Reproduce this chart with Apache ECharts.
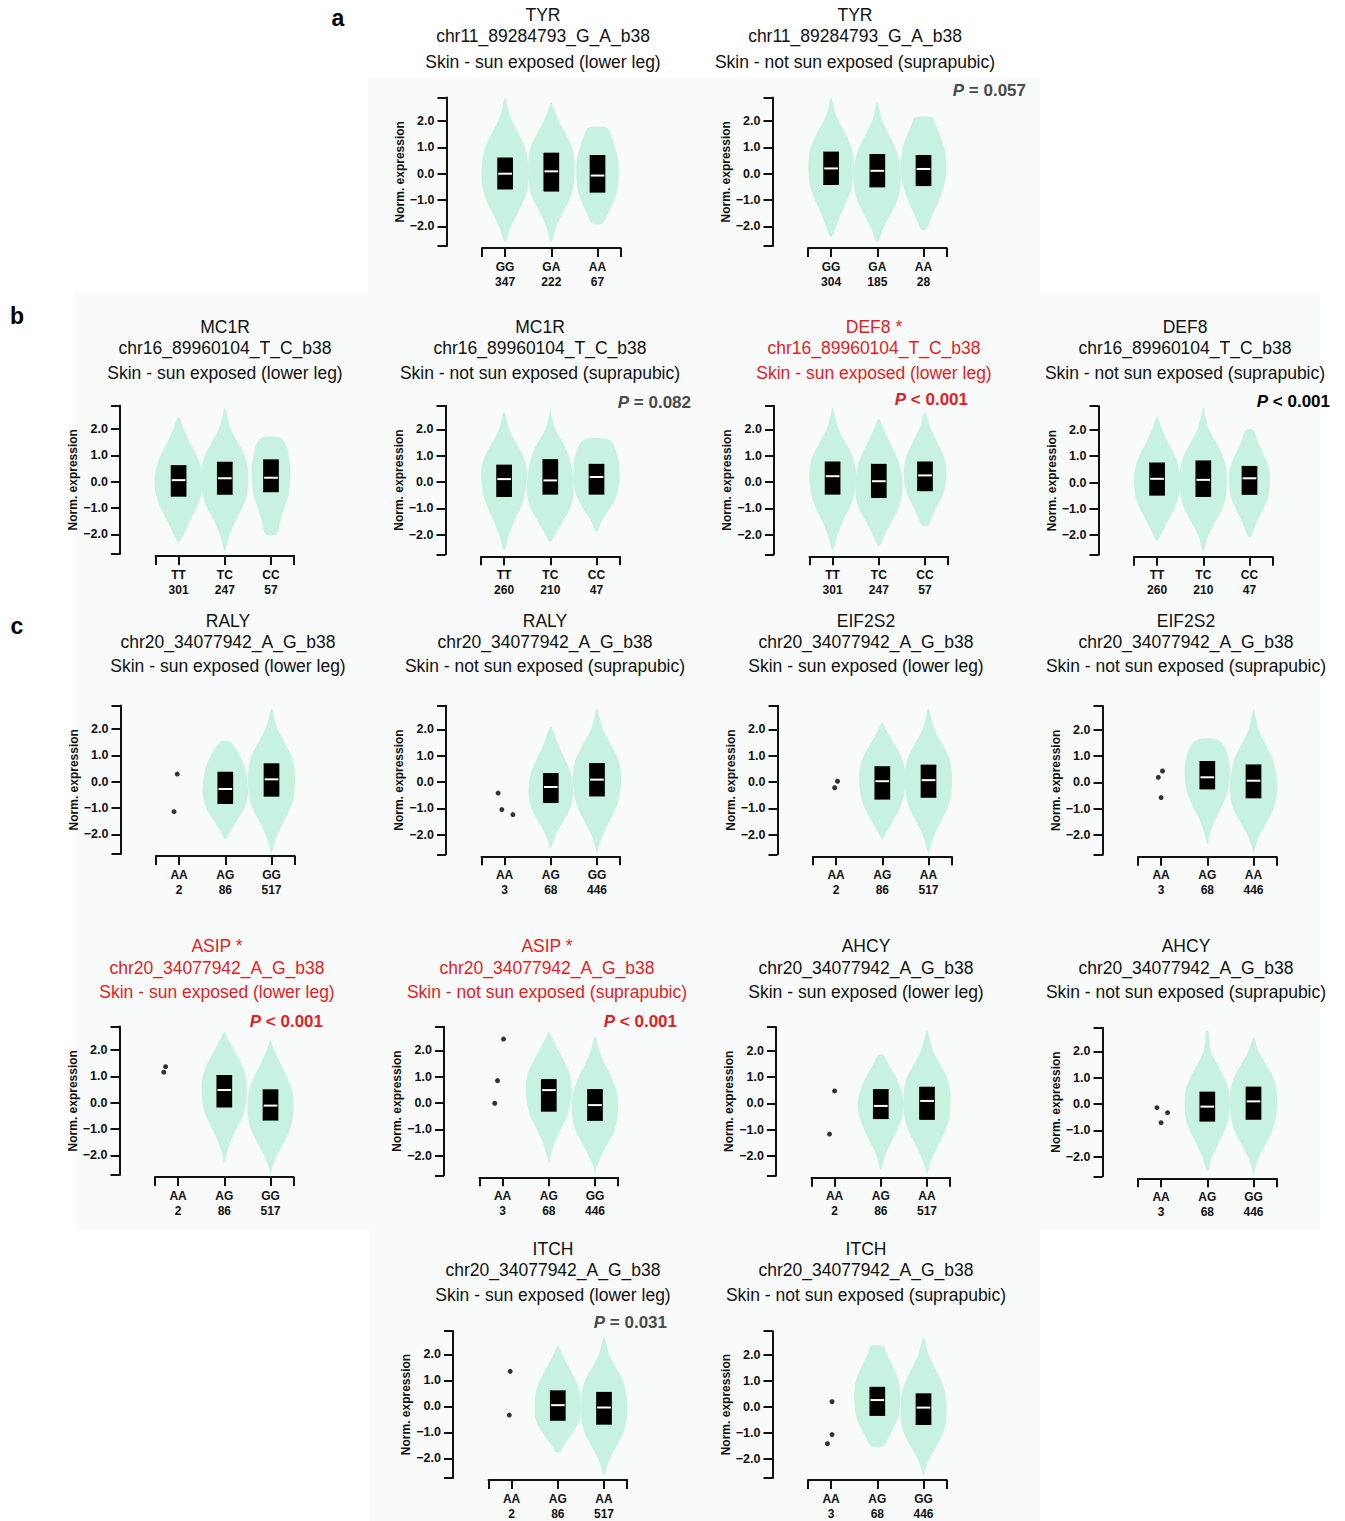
<!DOCTYPE html>
<html><head><meta charset="utf-8">
<script src="https://cdn.jsdelivr.net/npm/echarts@6/dist/echarts.min.js"></script>
<style>html,body{margin:0;padding:0;background:#fff}#c{width:1345px;height:1521px}</style>
</head><body><div id="c"></div>
<script>
// ---------------- DATA ----------------
const genes = ['TYR','TYR','MC1R','MC1R','DEF8 *','DEF8','RALY','RALY','EIF2S2','EIF2S2','ASIP *','ASIP *','AHCY','AHCY','ITCH','ITCH'];
const snps = ['chr11_89284793_G_A_b38','chr11_89284793_G_A_b38',
  'chr16_89960104_T_C_b38','chr16_89960104_T_C_b38','chr16_89960104_T_C_b38','chr16_89960104_T_C_b38',
  'chr20_34077942_A_G_b38','chr20_34077942_A_G_b38','chr20_34077942_A_G_b38','chr20_34077942_A_G_b38',
  'chr20_34077942_A_G_b38','chr20_34077942_A_G_b38','chr20_34077942_A_G_b38','chr20_34077942_A_G_b38',
  'chr20_34077942_A_G_b38','chr20_34077942_A_G_b38'];
const SUN = 'Skin - sun exposed (lower leg)', NOSUN = 'Skin - not sun exposed (suprapubic)';
const tissues = [SUN,NOSUN,SUN,NOSUN,SUN,NOSUN,SUN,NOSUN,SUN,NOSUN,SUN,NOSUN,SUN,NOSUN,SUN,NOSUN];
const highlighted = [false,false,false,false,true,false,false,false,false,false,true,true,false,false,false,false];
const genotypes = [['GG','GA','AA'],['GG','GA','AA'],['TT','TC','CC'],['TT','TC','CC'],['TT','TC','CC'],['TT','TC','CC'],
  ['AA','AG','GG'],['AA','AG','GG'],['AA','AG','AA'],['AA','AG','AA'],['AA','AG','GG'],['AA','AG','GG'],
  ['AA','AG','AA'],['AA','AG','GG'],['AA','AG','AA'],['AA','AG','GG']];
const counts = [[347,222,67],[304,185,28],[301,247,57],[260,210,47],[301,247,57],[260,210,47],
  [2,86,517],[3,68,446],[2,86,517],[3,68,446],[2,86,517],[3,68,446],[2,86,517],[3,68,446],[2,86,517],[3,68,446]];
const pTexts = [null,'= 0.057',null,'= 0.082','< 0.001','< 0.001',null,null,null,null,'< 0.001','< 0.001',null,null,'= 0.031',null];
const pKinds = [null,'ns',null,'ns','sig-red','sig',null,null,null,null,'sig-red','sig-red',null,null,'ns',null];

const boxQ1 = [[-0.6,-0.68,-0.72],[-0.43,-0.52,-0.47],[-0.57,-0.5,-0.4],[-0.57,-0.48,-0.48],[-0.48,-0.61,-0.35],[-0.5,-0.55,-0.47],
  [null,-0.85,-0.57],[null,-0.8,-0.55],[null,-0.67,-0.6],[null,-0.27,-0.61],[null,-0.18,-0.68],[null,-0.33,-0.68],
  [null,-0.6,-0.63],[null,-0.67,-0.6],[null,-0.55,-0.7],[null,-0.36,-0.71]];
const boxMedian = [[0.0,0.09,-0.07],[0.2,0.11,0.18],[0.06,0.13,0.15],[0.11,0.06,0.19],[0.22,0.03,0.25],[0.14,0.1,0.16],
  [null,-0.28,0.09],[null,-0.19,0.09],[null,0.03,0.07],[null,0.19,0.06],[null,0.48,-0.11],[null,0.49,-0.08],
  [null,-0.1,0.09],[null,-0.1,0.1],[null,0.05,-0.04],[null,0.25,-0.04]];
const boxQ3 = [[0.62,0.8,0.71],[0.84,0.75,0.71],[0.63,0.76,0.85],[0.66,0.87,0.69],[0.78,0.69,0.78],[0.76,0.84,0.63],
  [null,0.38,0.7],[null,0.34,0.72],[null,0.6,0.66],[null,0.81,0.68],[null,1.05,0.51],[null,0.91,0.53],
  [null,0.54,0.63],[null,0.47,0.66],[null,0.62,0.56],[null,0.76,0.51]];

// individual points of the rare genotype (first category): [jitter, value]
const outliers = [[],[],[],[],[],[],
  [[-0.04,0.29],[-0.11,-1.14]],
  [[-0.14,-0.42],[-0.06,-1.05],[0.18,-1.24]],
  [[-0.03,-0.22],[0.03,0.03]],
  [[0.03,0.43],[-0.06,0.19],[0.0,-0.58]],
  [[-0.27,1.37],[-0.31,1.16]],
  [[0.02,2.43],[-0.11,0.85],[-0.17,-0.01]],
  [[0.0,0.47],[-0.11,-1.17]],
  [[-0.09,-0.14],[0.14,-0.33],[0.0,-0.71]],
  [[-0.03,1.35],[-0.05,-0.33]],
  [[0.02,0.19],[0.02,-1.08],[-0.08,-1.43]]];

// violin density profiles: half-widths (category units) at these expression levels
const LEVELS = [-2.5,-2,-1.5,-1,-0.5,0,0.5,1,1.5,2,2.5];
const n = null;
const violinLo = [[-2.6,-2.6,-1.89],[-2.42,-2.59,-2.14],[-2.3,-2.65,-2.0],[-2.6,-2.28,-1.85],[-2.63,-2.45,-1.66],[-2.24,-2.62,-2.1],
  [n,-2.21,-2.72],[n,-2.5,-2.7],[n,-2.19,-2.72],[n,-2.36,-2.68],[n,-2.3,-2.75],[n,-2.29,-2.73],
  [n,-2.53,-2.72],[n,-2.56,-2.72],[n,-1.75,-2.7],[n,-1.53,-2.7]];
const violinHi = [[2.9,2.72,1.75],[2.9,2.75,2.15],[2.47,2.82,1.7],[2.68,2.83,1.6],[2.83,2.4,2.68],[2.5,2.86,2.0],
  [n,1.52,2.79],[n,2.11,2.8],[n,2.26,2.8],[n,1.65,2.81],[n,2.7,2.36],[n,2.71,2.54],
  [n,1.83,2.75],[n,2.75,2.55],[n,2.33,2.68],[n,2.33,2.68]];
const violinLoW = [[0,0,0.11],[0,0,0.04],[0,0,0.12],[0,0,0.03],[0,0,0.07],[0,0,0],
  [n,0,0],[n,0,0],[n,0,0],[n,0,0],[n,0,0],[n,0,0],[n,0,0],[n,0,0],[n,0.05,0],[n,0.12,0]];
const violinHiW = [[0,0,0.2],[0,0,0.2],[0,0,0.17],[0,0,0.28],[0,0,0],[0,0,0.08],
  [n,0.1,0],[n,0,0],[n,0,0],[n,0.15,0],[n,0,0],[n,0,0],[n,0.06,0],[n,0.03,0],[n,0,0],[n,0.13,0]];
const violinW = [
  [[0.03,0.13,0.27,0.41,0.49,0.51,0.49,0.43,0.3,0.15,0.06],[0.03,0.11,0.24,0.39,0.48,0.5,0.5,0.45,0.32,0.16,0.05],[n,n,0.23,0.36,0.44,0.46,0.45,0.38,0.28,n,n]],
  [[n,0.11,0.22,0.35,0.45,0.49,0.49,0.44,0.32,0.16,0.06],[0.04,0.15,0.3,0.44,0.5,0.51,0.48,0.39,0.25,0.11,0.04],[n,0.09,0.21,0.34,0.44,0.49,0.49,0.45,0.35,0.23,n]],
  [[n,0.11,0.24,0.39,0.49,0.52,0.49,0.39,0.24,0.11,n],[0.03,0.11,0.23,0.38,0.48,0.51,0.5,0.43,0.28,0.13,0.05],[n,n,0.2,0.29,0.38,0.41,0.42,0.38,0.3,n,n]],
  [[0.03,0.11,0.22,0.35,0.45,0.49,0.49,0.41,0.26,0.11,0.04],[n,0.11,0.27,0.43,0.5,0.5,0.47,0.4,0.27,0.11,0.03],[n,n,0.11,0.29,0.44,0.5,0.5,0.46,n,n,n]],
  [[0.03,0.11,0.22,0.36,0.46,0.5,0.5,0.43,0.28,0.13,0.05],[n,0.13,0.28,0.43,0.5,0.51,0.47,0.38,0.24,0.11,n],[n,n,0.11,0.24,0.38,0.45,0.46,0.4,0.27,0.13,0.04]],
  [[n,0.08,0.22,0.37,0.47,0.5,0.48,0.39,0.24,0.11,n],[0.03,0.11,0.26,0.41,0.49,0.51,0.5,0.43,0.28,0.13,0.05],[n,0.03,0.16,0.3,0.41,0.44,0.43,0.32,0.19,n,n]],
  [n,[n,0.07,0.24,0.42,0.49,0.48,0.43,0.31,n,n,n],[0.04,0.13,0.27,0.41,0.49,0.51,0.5,0.43,0.28,0.13,0.05]],
  [n,[n,0.11,0.27,0.42,0.48,0.47,0.4,0.27,0.14,0.04,n],[0.03,0.13,0.27,0.41,0.49,0.52,0.51,0.43,0.28,0.13,0.05]],
  [n,[n,0.07,0.22,0.38,0.47,0.5,0.49,0.4,0.24,0.08,n],[0.04,0.13,0.27,0.41,0.49,0.51,0.5,0.43,0.28,0.13,0.05]],
  [n,[n,0.05,0.15,0.29,0.42,0.48,0.49,0.45,0.32,n,n],[0.03,0.13,0.29,0.44,0.5,0.51,0.47,0.39,0.24,0.11,0.04]],
  [n,[n,0.04,0.13,0.26,0.4,0.47,0.49,0.47,0.36,0.21,0.06],[0.03,0.14,0.29,0.43,0.49,0.5,0.46,0.35,0.21,0.08,n]],
  [n,[n,0.04,0.13,0.26,0.4,0.47,0.5,0.47,0.36,0.21,0.06],[0.02,0.14,0.29,0.43,0.49,0.5,0.46,0.35,0.21,0.09,0.02]],
  [n,[0.02,0.09,0.22,0.36,0.47,0.5,0.44,0.32,0.16,n,n],[0.03,0.13,0.27,0.41,0.49,0.51,0.5,0.43,0.28,0.13,0.05]],
  [n,[0.02,0.11,0.24,0.38,0.47,0.49,0.47,0.37,0.22,0.08,0.04],[0.03,0.13,0.27,0.41,0.49,0.51,0.5,0.43,0.27,0.11,0.02]],
  [n,[n,n,0.13,0.33,0.48,0.5,0.48,0.39,0.24,0.09,n],[0.03,0.13,0.28,0.42,0.49,0.5,0.48,0.41,0.26,0.11,0.04]],
  [n,[n,n,n,0.3,0.44,0.49,0.5,0.46,0.35,0.21,n],[0.03,0.13,0.29,0.43,0.49,0.5,0.47,0.38,0.24,0.11,0.04]]
];
const yTickLabels = [-2,-1,0,1,2];

// ---------------- LAYOUT ----------------
const layout = [
  {ax:446.5, z0:173.7, tx:543, row:0}, {ax:772.5, z0:173.7, tx:855, row:0},
  {ax:120, z0:481.7, tx:225, row:1}, {ax:445.5, z0:482, tx:540, row:1}, {ax:774, z0:482, tx:874, row:1}, {ax:1098.5, z0:482.5, tx:1185, row:1},
  {ax:120.5, z0:781.7, tx:228, row:2}, {ax:446, z0:782, tx:545, row:2}, {ax:777.5, z0:782, tx:866, row:2}, {ax:1102.5, z0:782.3, tx:1186, row:2},
  {ax:119.5, z0:1102.7, tx:217, row:3}, {ax:444, z0:1103, tx:547, row:3}, {ax:776, z0:1103.3, tx:866, row:3}, {ax:1102.5, z0:1104, tx:1186, row:3},
  {ax:453, z0:1407.3, tx:553, row:4}, {ax:772.5, z0:1407.5, tx:866, row:4}
];
const rowTitleY = [[15,36,62],[327,348,373],[621,642,666],[946,968,992],[1249,1270,1295]];
const pPos = {1:[1026,90],3:[691,402],4:[968,399],5:[1330,401],10:[323,1021],11:[677,1021],14:[667,1322]};
const K = 26.3, YMIN = -2.75, YMAX = 2.9;
const FONT = '"Liberation Sans", Arial, Helvetica, sans-serif';
const RED = '#e41d24', VIOLIN = '#c7f2e2', INK = '#111';

const grid = [], xAxis = [], yAxis = [], series = [], graphic = [];

// faint panel backgrounds
[[368,78,672,217],[75,292,1245,316],[75,608,1245,622],[370,1230,670,291]].forEach(r=>{
  graphic.push({type:'rect', z:-10, shape:{x:r[0],y:r[1],width:r[2],height:r[3]}, style:{fill:'#f8fbfa'}, silent:true});
});

function violinItem(p){
  return function(params, api){
    const c = api.value(0);
    const lo = violinLo[p][c], hi = violinHi[p][c], loW = violinLoW[p][c], hiW = violinHiW[p][c], ws = violinW[p][c];
    const u = api.size([1,0])[0];
    const cx = api.coord([c,0])[0];
    const Y = v => api.coord([c,v])[1];
    const prof = [[lo, loW]];
    LEVELS.forEach((lv,i)=>{ if (ws[i]!=null && lv>lo+0.12 && lv<hi-0.12) prof.push([lv, ws[i]]); });
    prof.push([hi, hiW]);
    const left = prof.map(([v,w]) => [cx - w*u, Y(v)]);
    let right = prof.slice().reverse().map(([v,w]) => [cx + w*u, Y(v)]);
    if (hiW === 0) right = right.slice(1);
    if (loW === 0) right = right.slice(0, -1);
    return {type:'polygon', shape:{points: left.concat(right), smooth:0.3}, style:{fill:VIOLIN}};
  };
}
function boxItem(params, api){
  const c = api.value(0);
  const pTop = api.coord([c, api.value(3)]), pBot = api.coord([c, api.value(1)]), pMed = api.coord([c, api.value(2)]);
  const bw = api.size([0.34,0])[0];
  return {type:'group', children:[
    {type:'rect', shape:{x:pTop[0]-bw/2, y:pTop[1], width:bw, height:pBot[1]-pTop[1]}, style:{fill:'#000'}},
    {type:'rect', shape:{x:pTop[0]-bw/2+1, y:pMed[1]-1, width:bw-2, height:2}, style:{fill:'#fff'}}
  ]};
}

layout.forEach((L,p)=>{
  grid.push({left:L.ax+35.5, top:L.z0-YMAX*K, width:138.6, height:(YMAX-YMIN)*K});
  xAxis.push({type:'value', gridIndex:p, min:-0.5, max:2.5, offset:2,
    axisLine:{show:true, onZero:false, lineStyle:{color:INK, width:2}},
    axisTick:{show:true, customValues:[-0.5,0,1,2,2.5], length:9, lineStyle:{color:INK, width:2}},
    axisLabel:{show:true, customValues:[0,1,2], formatter:v=>genotypes[p][Math.round(v)]+'\n'+counts[p][Math.round(v)],
      color:INK, fontFamily:FONT, fontWeight:'bold', fontSize:12, lineHeight:15, margin:11},
    splitLine:{show:false}});
  yAxis.push({type:'value', gridIndex:p, min:YMIN, max:YMAX, offset:35.5,
    name:'Norm. expression', nameLocation:'middle', nameGap:39,
    nameTextStyle:{color:INK, fontFamily:FONT, fontWeight:'bold', fontSize:12},
    axisLine:{show:true, onZero:false, lineStyle:{color:INK, width:2}},
    axisTick:{show:true, customValues:[YMIN].concat(yTickLabels,[YMAX]), length:9, lineStyle:{color:INK, width:2}},
    axisLabel:{show:true, customValues:yTickLabels, formatter:v=>(v<0?'\u2212':'')+Math.abs(v).toFixed(1),
      color:INK, fontFamily:FONT, fontWeight:'bold', fontSize:12.5, margin:12},
    splitLine:{show:false}});

  const vData = [0,1,2].filter(c=>violinLo[p][c]!=null).map(c=>[c, boxMedian[p][c]]);
  series.push({type:'custom', xAxisIndex:p, yAxisIndex:p, z:2, silent:true, clip:false,
    data:vData, encode:{x:0,y:1}, renderItem:violinItem(p)});
  const bData = [0,1,2].filter(c=>boxQ1[p][c]!=null).map(c=>[c, boxQ1[p][c], boxMedian[p][c], boxQ3[p][c]]);
  series.push({type:'custom', xAxisIndex:p, yAxisIndex:p, z:3, silent:true, clip:false,
    data:bData, encode:{x:0,y:[1,2,3]}, renderItem:boxItem});
  if (outliers[p].length) {
    series.push({type:'scatter', xAxisIndex:p, yAxisIndex:p, z:4, silent:true, symbolSize:5,
      itemStyle:{color:'#000'}, data:outliers[p].map(([o,v])=>[0+o, v])});
  }

  // titles
  const col = highlighted[p] ? RED : INK;
  const ty = rowTitleY[L.row];
  [genes[p], snps[p], tissues[p]].forEach((t,i)=>{
    graphic.push({type:'text', x:L.tx, y:ty[i], silent:true,
      style:{text:t, fill:col, fontFamily:FONT, fontSize:17.5, align:'center', verticalAlign:'middle'}});
  });
  if (pTexts[p]) {
    const pc = pKinds[p]==='ns' ? '#4a4a4a' : (pKinds[p]==='sig-red' ? RED : '#000');
    const pos = pPos[p];
    graphic.push({type:'text', x:pos[0], y:pos[1], silent:true,
      style:{text:'{i|P} {b|'+pTexts[p]+'}', align:'right', verticalAlign:'middle',
        fontFamily:FONT, fontSize:17, fontWeight:'bold', fill:pc,
        rich:{i:{fontStyle:'italic', fontWeight:'bold', fontSize:17, fontFamily:FONT, fill:pc},
              b:{fontWeight:'bold', fontSize:17, fontFamily:FONT, fill:pc}}}});
  }
});

// panel letters
[['a',338,18],['b',17,316],['c',17,626]].forEach(([t,x,y])=>{
  graphic.push({type:'text', x:x, y:y, silent:true,
    style:{text:t, fill:'#000', fontFamily:FONT, fontSize:23, fontWeight:'bold', align:'center', verticalAlign:'middle'}});
});

const chart = echarts.init(document.getElementById('c'), null, {renderer:'svg'});
chart.setOption({animation:false, backgroundColor:'#fff', grid, xAxis, yAxis, series, graphic});
</script></body></html>
